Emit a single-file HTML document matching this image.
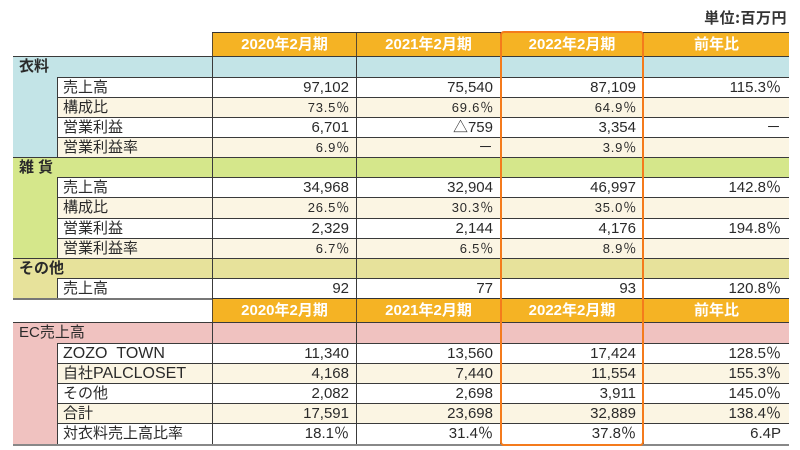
<!DOCTYPE html>
<html><head><meta charset="utf-8"><style>
html,body{margin:0;padding:0}
body{width:800px;height:450px;background:#fff;position:relative;overflow:hidden;font-family:"Liberation Sans","Noto Sans CJK JP",sans-serif;color:#2a2a2a;}
.unit{position:absolute;right:13px;top:8px;font-size:15px;font-weight:bold;letter-spacing:0.5px;color:#333;line-height:20px;font-family:"Noto Sans CJK JP","Liberation Sans",sans-serif;}
.hd{position:absolute;left:212px;width:577px;display:flex;box-sizing:border-box;background:#F5B324;border-top:1.5px solid #333;}
.hd span{display:block;box-sizing:border-box;height:100%;border-left:1.5px solid #5a4a30;color:#fff;font-weight:bold;font-size:15px;text-align:center;line-height:23px;}
.row{position:absolute;left:57px;width:732px;display:flex;box-sizing:border-box;border-top:1.5px solid #3a3a3a;}
.row.cat{left:13px;width:776px}
.row>span{display:block;box-sizing:border-box;height:100%;border-left:1.5px solid #3a3a3a;white-space:nowrap;font-size:15px;line-height:20px;}
.l{width:155px;padding-left:5px}
.cat .l{width:199px;border-left:none !important;padding-left:6px;font-weight:bold}
.c1,.c2{width:144px;text-align:right;padding-right:7px}
.c3{width:143px;text-align:right;padding-right:7px}
.c4{width:146px;text-align:right;padding-right:8px}
.w{background:#fff}
.cr{background:#FBF5E3}
.blue{background:#C3E4E7}
.green{background:#D5E78B}
.yel{background:#E7E29B}
.pink{background:#F0C2C0}
.s{font-size:13px !important;letter-spacing:0.8px}
.s.c1,.s.c2,.s.c3{padding-right:6px}
.lat{font-size:16px}
.side{position:absolute;left:13px;width:44px}
.box{position:absolute;left:500px;top:31px;width:144px;height:415px;box-sizing:border-box;border:2.5px solid #F47B1C;border-radius:4px}
.line{position:absolute;height:1.5px;background:#555}
</style></head><body>
<div class="unit">単位:百万円</div>

<div class="hd" style="top:32px;height:24px"><span style="width:144px">2020年2月期</span><span style="width:144px">2021年2月期</span><span style="width:143px">2022年2月期</span><span style="width:146px">前年比</span></div>

<div class="side blue" style="top:77px;height:80px"></div>
<div class="side green" style="top:177px;height:81px"></div>
<div class="side yel" style="top:278px;height:20px"></div>
<div class="side pink" style="top:343px;height:101px"></div>

<div class="row cat blue" style="top:56px;height:21px"><span class="l">衣料</span><span class="c1"></span><span class="c2"></span><span class="c3"></span><span class="c4"></span></div>
<div class="row w" style="top:77px;height:20px"><span class="l">売上高</span><span class="c1">97,102</span><span class="c2">75,540</span><span class="c3">87,109</span><span class="c4">115.3％</span></div>
<div class="row cr" style="top:97px;height:20px"><span class="l">構成比</span><span class="c1 s">73.5％</span><span class="c2 s">69.6％</span><span class="c3 s">64.9％</span><span class="c4"></span></div>
<div class="row w" style="top:117px;height:20px"><span class="l">営業利益</span><span class="c1">6,701</span><span class="c2">△759</span><span class="c3">3,354</span><span class="c4">－</span></div>
<div class="row cr" style="top:137px;height:20px"><span class="l">営業利益率</span><span class="c1 s">6.9％</span><span class="c2">－</span><span class="c3 s">3.9％</span><span class="c4"></span></div>

<div class="row cat green" style="top:157px;height:20px"><span class="l">雑 貨</span><span class="c1"></span><span class="c2"></span><span class="c3"></span><span class="c4"></span></div>
<div class="row w" style="top:177px;height:20px"><span class="l">売上高</span><span class="c1">34,968</span><span class="c2">32,904</span><span class="c3">46,997</span><span class="c4">142.8％</span></div>
<div class="row cr" style="top:197px;height:21px"><span class="l">構成比</span><span class="c1 s">26.5％</span><span class="c2 s">30.3％</span><span class="c3 s">35.0％</span><span class="c4"></span></div>
<div class="row w" style="top:218px;height:20px"><span class="l">営業利益</span><span class="c1">2,329</span><span class="c2">2,144</span><span class="c3">4,176</span><span class="c4">194.8％</span></div>
<div class="row cr" style="top:238px;height:20px"><span class="l">営業利益率</span><span class="c1 s">6.7％</span><span class="c2 s">6.5％</span><span class="c3 s">8.9％</span><span class="c4"></span></div>

<div class="row cat yel" style="top:258px;height:20px"><span class="l">その他</span><span class="c1"></span><span class="c2"></span><span class="c3"></span><span class="c4"></span></div>
<div class="row w" style="top:278px;height:20px"><span class="l">売上高</span><span class="c1">92</span><span class="c2">77</span><span class="c3">93</span><span class="c4">120.8％</span></div>

<div class="line" style="left:13px;top:298px;width:200px;background:#777"></div>
<div class="hd" style="top:298px;height:25px"><span style="width:144px">2020年2月期</span><span style="width:144px">2021年2月期</span><span style="width:143px">2022年2月期</span><span style="width:146px">前年比</span></div>

<div class="row cat pink" style="top:322px;height:21px"><span class="l" style="font-weight:normal">EC売上高</span><span class="c1"></span><span class="c2"></span><span class="c3"></span><span class="c4"></span></div>
<div class="row w" style="top:343px;height:20px"><span class="l"><span class="lat">ZOZO&nbsp;&nbsp;TOWN</span></span><span class="c1">11,340</span><span class="c2">13,560</span><span class="c3">17,424</span><span class="c4">128.5％</span></div>
<div class="row cr" style="top:363px;height:20px"><span class="l">自社<span class="lat">PALCLOSET</span></span><span class="c1">4,168</span><span class="c2">7,440</span><span class="c3">11,554</span><span class="c4">155.3％</span></div>
<div class="row w" style="top:383px;height:20px"><span class="l">その他</span><span class="c1">2,082</span><span class="c2">2,698</span><span class="c3">3,911</span><span class="c4">145.0％</span></div>
<div class="row cr" style="top:403px;height:20px"><span class="l">合計</span><span class="c1">17,591</span><span class="c2">23,698</span><span class="c3">32,889</span><span class="c4">138.4％</span></div>
<div class="row w" style="top:423px;height:21px"><span class="l">対衣料売上高比率</span><span class="c1">18.1％</span><span class="c2">31.4％</span><span class="c3">37.8％</span><span class="c4">6.4P</span></div>
<div class="line" style="left:13px;top:444px;width:776px;background:#888"></div>

<div class="box"></div>
</body></html>
